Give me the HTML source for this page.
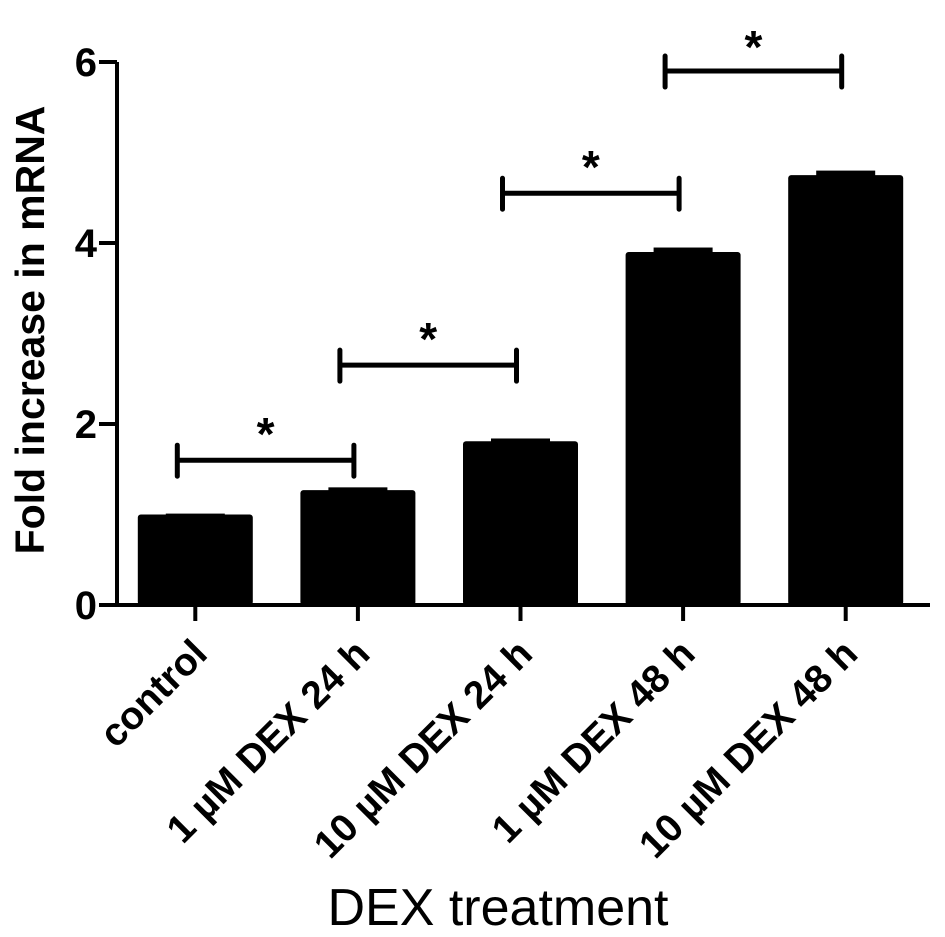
<!DOCTYPE html>
<html><head><meta charset="utf-8"><style>body{margin:0;background:#fff}svg{display:block;font-family:"Liberation Sans",Arial,sans-serif}</style></head>
<body>
<svg id="chart" width="945" height="937" viewBox="0 0 945 937" xmlns="http://www.w3.org/2000/svg">
<g id="marks"></g>
<text transform="translate(44,330) rotate(-90)" text-anchor="middle" font-size="41" font-weight="bold">Fold increase in mRNA</text>
<text x="498" y="925" text-anchor="middle" font-size="52">DEX treatment</text>
</svg>
<script>
const categories=["control","1 µM DEX 24 h","10 µM DEX 24 h","1 µM DEX 48 h","10 µM DEX 48 h"];
const values=[1.0,1.27,1.81,3.9,4.75];
const errors=[0.01,0.03,0.03,0.05,0.05];
const yTicks=[0,2,4,6];
const sigPairs=[[0,1,1.6],[1,2,2.65],[2,3,4.55],[3,4,5.9]];
const X0=117,X1=930,Y0=605,Y1=62,YMAX=6;
const y=v=>Y0-(Y0-Y1)*v/YMAX;
const band=(X1-X0)/categories.length;
const xc=i=>X0+band*(i+0.5)-3;
const bw=115;
const NS="http://www.w3.org/2000/svg";
const g=document.getElementById('marks');
function mk(t,a){const e=document.createElementNS(NS,t);for(const k in a)e.setAttribute(k,a[k]);g.appendChild(e);return e;}
values.forEach((v,i)=>{
 const r=mk('rect',{x:xc(i)-bw/2,y:y(v),width:bw,height:Y0-y(v),rx:3,fill:'#000'});
 
 
 const c=mk('rect',{x:xc(i)-bw/2+28,y:y(v+errors[i]),width:bw-56,height:y(v)-y(v+errors[i])+2,fill:'#000'});
 
 
 const tk=mk('line',{x1:xc(i),x2:xc(i),y1:Y0,y2:Y0+16,stroke:'#000','stroke-width':4});
 
 
 const t=mk('text',{transform:`translate(${xc(i)+14},${Y0+51}) rotate(-45)`,'text-anchor':'end','font-size':39,'font-weight':'bold'});
 t.textContent=categories[i];
 
 
});
yTicks.forEach(v=>{
 const l=mk('line',{x1:X0-18,x2:X0,y1:y(v),y2:y(v),stroke:'#000','stroke-width':4});
 
 
 const t=mk('text',{x:X0-20,y:y(v)+14,'text-anchor':'end','font-size':40,'font-weight':'bold'});
 t.textContent=v;
 
 
});
const ax=mk('path',{d:`M${X0} ${Y1}V${Y0}H${X1}`,fill:'none',stroke:'#000','stroke-width':4});


sigPairs.forEach(p=>{
 const a=xc(p[0])-18,b=xc(p[1])-4,yy=y(p[2]);
 const br=mk('path',{d:`M${a} ${yy}H${b}M${a} ${yy-15}V${yy+16}M${b} ${yy-15}V${yy+16}`,stroke:'#000','stroke-width':5,fill:'none','stroke-linecap':'round'});
 
 
 const s=mk('text',{x:(a+b)/2,y:yy+2-(yy>100?12:10),'text-anchor':'middle','font-size':46,'font-weight':'bold'});
 s.textContent='*';
 
 
});
</script>
</body></html>
